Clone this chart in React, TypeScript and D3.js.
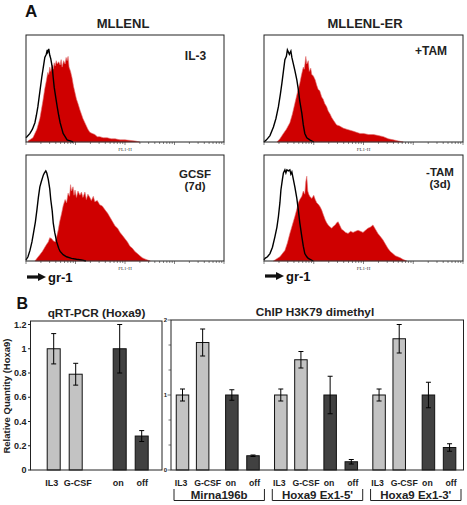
import React from 'react';
import * as d3 from 'd3';

// ---------- Panel A: flow cytometry histograms (log10 FL1-H, % of max) ----------
const il3Black = [[0,4],[0.08,8],[0.13,12],[0.18,18],[0.21,25],[0.24,33],[0.28,47],[0.32,61],[0.35,70],[0.38,79],[0.41,82],[0.43,86],[0.44,84],[0.46,87],[0.48,81],[0.5,78],[0.53,70],[0.55,60],[0.57,51],[0.6,42],[0.63,33],[0.66,25],[0.69,18],[0.72,13],[0.75,8],[0.79,5],[0.83,2],[0.89,1],[0.95,0]];
const il3Red = [[0.04,1],[0.14,4],[0.22,12],[0.28,22],[0.31,30],[0.34,38],[0.36,44],[0.38,50],[0.41,57],[0.44,65],[0.46,63],[0.48,70],[0.5,66],[0.53,72],[0.55,68],[0.57,74],[0.59,71],[0.61,76],[0.63,73],[0.66,75],[0.69,72],[0.71,77],[0.73,70],[0.76,76],[0.79,73],[0.81,79],[0.83,76],[0.85,80],[0.87,70],[0.9,66],[0.93,60],[0.96,52],[0.99,46],[1.02,40],[1.05,36],[1.09,30],[1.12,26],[1.15,22],[1.18,19],[1.21,16],[1.25,12],[1.29,9],[1.34,8],[1.39,7],[1.44,5],[1.49,5],[1.56,4],[1.64,4],[1.72,3],[1.8,3],[1.9,2],[2.0,2],[2.2,1],[2.3,0]];
const tamPlusBlack = [[0.0,0],[0.05,2],[0.12,6],[0.19,14],[0.24,22],[0.29,33],[0.33,45],[0.36,55],[0.39,66],[0.42,77],[0.45,80],[0.47,86],[0.49,84],[0.51,82],[0.54,85],[0.56,79],[0.59,73],[0.62,67],[0.66,58],[0.69,49],[0.72,38],[0.76,27],[0.79,16],[0.82,8],[0.86,4],[0.92,2],[1.0,0]];
const tamPlusRed = [[0.26,0],[0.32,3],[0.39,8],[0.45,12],[0.52,18],[0.57,26],[0.62,36],[0.67,46],[0.72,55],[0.75,62],[0.79,70],[0.81,68],[0.84,80],[0.86,73],[0.89,76],[0.91,66],[0.94,69],[0.96,63],[0.99,62],[1.03,58],[1.06,53],[1.09,49],[1.12,48],[1.16,42],[1.19,40],[1.22,36],[1.26,33],[1.29,29],[1.33,26],[1.36,23],[1.4,20],[1.46,16],[1.52,15],[1.59,13],[1.66,12],[1.73,11],[1.8,10],[1.86,9],[1.93,8],[2.0,8],[2.1,7],[2.2,7],[2.3,6],[2.4,5],[2.5,3],[2.6,2],[2.7,1],[2.8,0]];
const gcsfBlack = [[0.0,1],[0.04,4],[0.08,10],[0.12,18],[0.15,26],[0.19,37],[0.22,48],[0.25,60],[0.28,70],[0.31,75],[0.35,81],[0.37,83],[0.4,85],[0.42,83],[0.45,77],[0.48,68],[0.5,58],[0.53,47],[0.55,36],[0.58,27],[0.62,18],[0.66,12],[0.69,9],[0.75,6],[0.82,4],[0.92,2.5],[1.02,1.6],[1.12,1],[1.21,0]];
const gcsfRed = [[0.18,0],[0.23,3],[0.28,6],[0.33,9],[0.38,13],[0.42,16],[0.45,18],[0.48,22],[0.52,21],[0.55,19],[0.59,18],[0.62,23],[0.65,29],[0.68,37],[0.72,45],[0.75,52],[0.79,58],[0.82,55],[0.85,64],[0.88,61],[0.9,72],[0.92,66],[0.95,70],[0.97,62],[0.99,67],[1.02,60],[1.05,66],[1.09,62],[1.12,65],[1.15,60],[1.19,65],[1.22,58],[1.25,63],[1.29,60],[1.32,57],[1.36,61],[1.39,56],[1.44,57],[1.49,53],[1.54,52],[1.6,48],[1.65,45],[1.7,41],[1.75,37],[1.8,33],[1.85,31],[1.9,27],[1.95,24],[2.0,21],[2.05,18],[2.1,14],[2.15,12],[2.2,9],[2.25,7],[2.3,5],[2.35,3],[2.4,2],[2.51,0]];
const tamMinusBlack = [[0.0,1],[0.02,2.5],[0.07,4],[0.12,7],[0.17,13],[0.22,23],[0.26,32],[0.29,42],[0.32,55],[0.34,67],[0.37,77],[0.39,83],[0.42,86],[0.44,83],[0.46,86],[0.49,85],[0.52,86],[0.54,82],[0.56,84],[0.59,77],[0.62,70],[0.66,59],[0.69,48],[0.72,36],[0.76,23],[0.79,14],[0.82,7],[0.86,4],[0.89,2.5],[0.99,0]];
const tamMinusRed = [[0.19,0],[0.25,2],[0.32,4],[0.37,7],[0.42,10],[0.47,17],[0.52,26],[0.57,34],[0.62,42],[0.66,49],[0.69,55],[0.72,58],[0.76,61],[0.79,66],[0.82,63],[0.84,75],[0.86,80],[0.88,66],[0.9,63],[0.92,61],[0.96,59],[1.0,62],[1.03,58],[1.06,55],[1.1,53],[1.13,51],[1.16,48],[1.19,44],[1.23,39],[1.26,36],[1.29,34],[1.33,32],[1.36,31],[1.4,33],[1.43,34],[1.46,36],[1.49,37],[1.53,33],[1.56,30],[1.59,29],[1.64,27],[1.69,26],[1.74,28],[1.79,27],[1.84,28],[1.89,29],[1.94,28],[1.99,27],[2.04,29],[2.09,31],[2.14,32],[2.19,34],[2.24,30],[2.29,26],[2.34,23],[2.39,20],[2.44,16],[2.49,12],[2.54,9],[2.59,7],[2.64,5],[2.69,4],[2.74,3],[2.79,1.6],[2.87,0]];

const columnTitles = ['MLLENL', 'MLLENL-ER'];
const conditionLabels = [['IL-3'], ['+TAM'], ['GCSF', '(7d)'], ['-TAM', '(3d)']];

// ---------- Panel B ----------
const qpcrCategories = ['IL3', 'G-CSF', 'on', 'off'];
const qpcrValues = [1.0, 0.79, 1.0, 0.28];
const qpcrErrors = [0.125, 0.09, 0.2, 0.045];
const qpcrTicks = [0, 0.2, 0.4, 0.6, 0.8, 1, 1.2];

const chipGroups = ['Mirna196b', "Hoxa9 Ex1-5'", "Hoxa9 Ex1-3'"];
const chipCategories = ['IL3', 'G-CSF', 'on', 'off'];
const chipValues = [
  [1.0, 1.7, 1.0, 0.19],
  [1.0, 1.47, 1.0, 0.11],
  [1.0, 1.75, 1.0, 0.3],
];
const chipErrors = [
  [0.08, 0.18, 0.07, 0.01],
  [0.08, 0.11, 0.25, 0.03],
  [0.08, 0.19, 0.17, 0.05],
];
const chipTicks = [0, 1, 2];

const FONT = 'Arial, "Liberation Sans", Helvetica, sans-serif';
const RED = '#cf0000';
const LIGHT = '#c3c3c3';
const DARK = '#414141';

type Pt = number[];

function Histogram({ x0, y0, w, h, red, black, label, labelX, labelY, fs }: any) {
  const x = d3.scaleLog().domain([1, 1e4]).range([x0, x0 + w]);
  const y = d3.scaleLinear().domain([0, 100]).range([y0 + h, y0]);
  const area = d3.area<Pt>().x(d => x(Math.pow(10, d[0]))).y0(y(0)).y1(d => y(d[1]));
  const line = d3.line<Pt>().x(d => x(Math.pow(10, d[0]))).y(d => y(d[1]));
  const ticks = x.ticks();
  return (
    <g>
      <path d={area(red) || ''} fill={RED} stroke="#e07070" strokeWidth={0.6} />
      <path d={line(black) || ''} fill="none" stroke="#000" strokeWidth={1.4} />
      <rect x={x0} y={y0} width={w} height={h} fill="none" stroke="#222" strokeWidth={1} />
      {ticks.map((t, i) => {
        const major = Math.abs(Math.log10(t) - Math.round(Math.log10(t))) < 1e-6;
        return <line key={i} x1={x(t)} x2={x(t)} y1={y0 + h} y2={y0 + h + (major ? 3 : 2)} stroke="#333" strokeWidth={0.6} />;
      })}
      <text x={x0 + w / 2} y={y0 + h + 9} fontSize={5} fontFamily="serif" textAnchor="middle" fill="#333">FL1-H</text>
      {label.map((s: string, i: number) => (
        <text key={i} x={labelX} y={labelY + i * 12} fontSize={fs} fontWeight="bold" fontFamily={FONT} textAnchor="middle" fill="#222">{s}</text>
      ))}
    </g>
  );
}

function Gr1Arrow({ x, y }: any) {
  return (
    <g>
      <rect x={x} y={y - 1.6} width={12} height={3.2} fill="#111" />
      <polygon points={`${x + 11},${y - 4} ${x + 19},${y} ${x + 11},${y + 4}`} fill="#111" />
      <text x={x + 21} y={y + 4.5} fontSize={13} fontWeight="bold" fontFamily={FONT} fill="#111">gr-1</text>
    </g>
  );
}

function ErrorBar({ cx, y1, y2 }: any) {
  return (
    <g stroke="#000" strokeWidth={1}>
      <line x1={cx} x2={cx} y1={y1} y2={y2} />
      <line x1={cx - 2.5} x2={cx + 2.5} y1={y1} y2={y1} />
      <line x1={cx - 2.5} x2={cx + 2.5} y1={y2} y2={y2} />
    </g>
  );
}

export default function App() {
  // Panel B layout
  const slotLeft: Record<string, number> = { IL3: 0, 'G-CSF': 1, on: 3, off: 4 };
  const slotChip: Record<string, number> = { IL3: 0, 'G-CSF': 1, on: 2.45, off: 3.5 };
  const labelShiftLeft: Record<string, number> = { IL3: -2, 'G-CSF': 2, on: -1.5, off: 0.5 };
  const labelShiftChip: Record<string, number> = { IL3: -1.5, 'G-CSF': 5, on: -1, off: 1.5 };
  const qx = d3.scaleLinear().domain([0, 4]).range([53.7, 141.7]);
  const qy = d3.scaleLinear().domain([0, 1.2]).range([470, 324.5]);
  const gx = d3.scaleBand().domain(chipGroups).range([174, 461]).paddingInner(0.08);
  const ix = d3.scaleLinear().domain([0, 3.5]).range([8.5, 79]);
  const cy = d3.scaleLinear().domain([0, 2]).range([470, 320]);
  const chipMinor = d3.range(0, 2.001, 1 / 3);

  return (
    <svg width={467} height={505} style={{ position: 'absolute', left: 0, top: 0, background: '#fff' }}>
      <rect width={467} height={505} fill="#fff" />
      {/* Panel A */}
      <text x={25} y={17} fontSize={17} fontWeight="bold" fontFamily={FONT} fill="#111">A</text>
      <text x={123} y={27.5} fontSize={13} fontWeight="bold" fontFamily={FONT} textAnchor="middle" fill="#222">{columnTitles[0]}</text>
      <text x={365} y={27.5} fontSize={13} fontWeight="bold" fontFamily={FONT} textAnchor="middle" fill="#222">{columnTitles[1]}</text>

      <Histogram x0={26} y0={35} w={198} h={107} red={il3Red} black={il3Black} label={conditionLabels[0]} labelX={195.5} labelY={59.5} fs={12} />
      <Histogram x0={264} y0={35} w={199} h={107} red={tamPlusRed} black={tamPlusBlack} label={conditionLabels[1]} labelX={431} labelY={54.5} fs={12} />
      <Histogram x0={26} y0={155} w={198} h={106} red={gcsfRed} black={gcsfBlack} label={conditionLabels[2]} labelX={195} labelY={177.5} fs={11.5} />
      <Histogram x0={264} y0={155} w={199} h={106} red={tamMinusRed} black={tamMinusBlack} label={conditionLabels[3]} labelX={440} labelY={176} fs={11.5} />

      <Gr1Arrow x={27} y={277} />
      <Gr1Arrow x={265} y={276} />

      {/* Panel B */}
      <text x={16.5} y={308.5} fontSize={16} fontWeight="bold" fontFamily={FONT} fill="#111">B</text>
      <text x={96.5} y={316.5} fontSize={11.8} fontWeight="bold" fontFamily={FONT} textAnchor="middle" fill="#222">qRT-PCR (Hoxa9)</text>
      <text x={315} y={316.3} fontSize={11.8} fontWeight="bold" fontFamily={FONT} textAnchor="middle" fill="#222">ChIP H3K79 dimethyl</text>

      {/* qPCR chart */}
      <text transform={`translate(10,396) rotate(-90)`} fontSize={9.5} fontWeight="bold" fontFamily={FONT} textAnchor="middle" fill="#222">Relative Quantity (Hoxa9)</text>
      {qpcrTicks.map(t => (
        <g key={t}>
          <line x1={28} x2={30.5} y1={qy(t)} y2={qy(t)} stroke="#222" />
          <text x={26.5} y={qy(t) + 3.2} fontSize={9} fontWeight="bold" fontFamily={FONT} textAnchor="end" fill="#222">{String(t)}</text>
        </g>
      ))}
      {qpcrCategories.map((c, i) => {
        const cx = qx(slotLeft[c]);
        const fill = i < 2 ? LIGHT : DARK;
        return (
          <g key={c}>
            <rect x={cx - 6.5} y={qy(qpcrValues[i])} width={13} height={qy(0) - qy(qpcrValues[i])} fill={fill} stroke="#111" strokeWidth={1} />
            <ErrorBar cx={cx} y1={qy(qpcrValues[i] + qpcrErrors[i])} y2={qy(qpcrValues[i] - qpcrErrors[i])} />
            <text x={cx + labelShiftLeft[c]} y={485.5} fontSize={9} fontWeight="bold" fontFamily={FONT} textAnchor="middle" fill="#222">{c}</text>
          </g>
        );
      })}
      <rect x={30.5} y={321} width={131.5} height={149} fill="none" stroke="#222" strokeWidth={1} />

      {/* ChIP chart */}
      {chipMinor.map((t, i) => (
        <line key={i} x1={i % 3 === 0 ? 167.5 : 168.5} x2={171} y1={cy(t)} y2={cy(t)} stroke="#333" strokeWidth={0.7} />
      ))}
      {chipTicks.map(t => (
        <text key={t} x={167} y={cy(t) + 2} fontSize={6} fontWeight="bold" fontFamily={FONT} textAnchor="end" fill="#222">{String(t)}</text>
      ))}
      {chipGroups.map((g, gi) => {
        const g0 = gx(g) as number;
        const bw = gx.bandwidth();
        return (
          <g key={g}>
            {chipCategories.map((c, i) => {
              const cx = g0 + ix(slotChip[c]);
              const v = chipValues[gi][i];
              const e = chipErrors[gi][i];
              return (
                <g key={c}>
                  <rect x={cx - 6.25} y={cy(v)} width={12.5} height={cy(0) - cy(v)} fill={i < 2 ? LIGHT : DARK} stroke="#111" strokeWidth={1} />
                  <ErrorBar cx={cx} y1={cy(v + e)} y2={cy(v - e)} />
                  <text x={cx + labelShiftChip[c]} y={485.5} fontSize={8.7} fontWeight="bold" fontFamily={FONT} textAnchor="middle" fill="#222">{c}</text>
                </g>
              );
            })}
            <path d={`M${g0},489 V500.5 H${g0 + bw} V489`} fill="none" stroke="#222" strokeWidth={1} />
            <text x={g0 + bw / 2} y={499} fontSize={11.5} fontWeight="bold" fontFamily={FONT} textAnchor="middle" fill="#222">{g}</text>
          </g>
        );
      })}
      <rect x={171} y={320} width={292.5} height={150} fill="none" stroke="#222" strokeWidth={1} />
    </svg>
  );
}
